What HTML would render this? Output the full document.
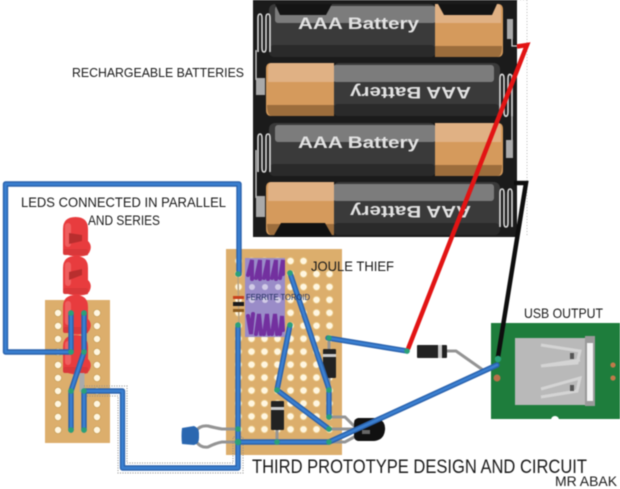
<!DOCTYPE html>
<html><head><meta charset="utf-8"><style>
html,body{margin:0;padding:0;background:#fff;width:620px;height:489px;overflow:hidden}
svg{display:block;filter:blur(.45px)}
.c{font-family:"Liberation Sans",sans-serif;fill:#1a1a1a}
.b{font-family:"Liberation Sans",sans-serif;font-weight:bold;fill:#e2e2e2;font-size:17px}
</style></head><body>
<svg width="620" height="489" viewBox="0 0 620 489" xmlns="http://www.w3.org/2000/svg">
<defs>
<pattern id="h" x="232" y="254.5" width="13" height="12.95" patternUnits="userSpaceOnUse"><circle cx="6.5" cy="6.5" r="3.6" fill="#fff6e0" stroke="#e6c27e" stroke-width=".8"/></pattern>
<pattern id="h2" x="51.5" y="306.5" width="13" height="13" patternUnits="userSpaceOnUse"><circle cx="6.5" cy="6.5" r="3.6" fill="#fff6e0" stroke="#c9a25e" stroke-width=".8"/></pattern>
<g id="bat">
<rect x="0" y="0" width="167" height="53" rx="6" fill="#3a3a3a"/>
<rect x="0" y="41" width="167" height="12" rx="5" fill="#2a2a2a"/>
<rect x="6" y="2" width="161" height="17" rx="3" fill="#7c7c7c"/>
<path d="M166 0H229q5 0 5 6V47q0 6-5 6H166Z" fill="#d59a5c"/>
<path d="M166 0H229q3 0 3 6V19H166Z" fill="#e0b184"/>
<path d="M166 42H233q0 11-5 11H166Z" fill="#9c6d3c"/>
</g>
<g id="spring" fill="none" stroke="#d8d8d8" stroke-width="1.6"><path d="M0 42V8q0-4 2-4t2 4V38q0 4 2 4t2-4V8q0-4 2-4t2 4V42"/></g>
<g id="led">
<path d="M0 36V12Q0 0 12.5 0T25 12V24q5 5 1 12l-1 1v1Q12 42 0 36Z" fill="#e83c3e"/>
<rect x="0" y="32" width="25" height="6" rx="2" fill="#d9383a"/>
<rect x="2" y="6" width="6" height="24" rx="3" fill="#ef5f5f"/>
</g>
</defs>

<!-- battery holder -->
<rect x="253" y="0" width="264" height="237" fill="#1b1b1b"/>
<path d="M527 0V236M517 0H527" stroke="#bbb" stroke-width="1" stroke-dasharray="1 2" fill="none"/>
<use href="#bat" transform="translate(269 4)"/>
<path d="M275 4h57l-6 11h-46Z" fill="#141414"/>
<path d="M438 4h59l-5 11h-48Z" fill="#141414"/>
<use href="#bat" transform="translate(500 63) scale(-1 1)"/>
<use href="#bat" transform="translate(269 123)"/>
<use href="#bat" transform="translate(500 182) scale(-1 1)"/>
<path d="M273 237l8-14h44l8 14Z" fill="#111"/>
<text class="b" x="298" y="29" textLength="121" lengthAdjust="spacingAndGlyphs">AAA Battery</text>
<text class="b" transform="translate(471 87) rotate(180)" x="0" y="0" textLength="121" lengthAdjust="spacingAndGlyphs">AAA Battery</text>
<text class="b" x="298" y="148" textLength="121" lengthAdjust="spacingAndGlyphs">AAA Battery</text>
<text class="b" transform="translate(471 206) rotate(180)" x="0" y="0" textLength="121" lengthAdjust="spacingAndGlyphs">AAA Battery</text>
<!-- springs -->
<use href="#spring" transform="translate(258 10)"/>
<use href="#spring" transform="translate(258 130)"/>
<use href="#spring" transform="translate(500 70) scale(1 1.1)"/>
<use href="#spring" transform="translate(500 185)"/>
<path d="M256 50V80M256 150V198M512 75V140M512 38V46H517" stroke="#cfcfcf" stroke-width="1.3" fill="none"/>
<rect x="256" y="78" width="9" height="17" fill="#aaa"/><rect x="256" y="196" width="9" height="21" fill="#aaa"/>
<rect x="507" y="19" width="6" height="20" fill="#aaa"/><rect x="506" y="140" width="7" height="18" fill="#aaa"/>

<!-- boards -->
<rect x="45" y="300" width="65" height="143" fill="#dcae6c"/>
<rect x="226" y="249" width="116" height="206" fill="#dcae6c"/>
<rect x="232" y="254.5" width="104" height="181" fill="url(#h)"/>
<rect x="310" y="254" width="28" height="14" fill="#dcae6c"/>
<rect x="51.5" y="306.5" width="13" height="130" fill="url(#h2)"/>
<rect x="90.5" y="306.5" width="13" height="130" fill="url(#h2)"/>

<!-- LEDs -->
<use href="#led" transform="translate(63 217)"/>
<use href="#led" transform="translate(63 256)"/>
<use href="#led" transform="translate(63 295)"/>
<use href="#led" transform="translate(63 335)"/>
<path d="M69 233l13 2v6l-13 3ZM69 272l13-3v6l-13 5Z" fill="#b82e2e"/>
<path d="M82 373V392" stroke="#aaa" stroke-width="5"/>

<!-- toroid -->
<rect x="245" y="258" width="40" height="79" fill="#9a8cc8"/>
<g fill="#fff" opacity=".55"><circle cx="252" cy="287" r="3"/><circle cx="265" cy="287" r="3"/><circle cx="278" cy="287" r="3"/><circle cx="252" cy="300" r="3"/><circle cx="265" cy="300" r="3"/><circle cx="278" cy="300" r="3"/></g>
<g fill="none" stroke="#73309f" stroke-width="4" stroke-linecap="round">
<path d="M248 275L252 260L252 279M256 278L260 260L260 279M264 278L268 260L268 279M272 278L276 260L276 279M280 278L283 260V274"/>
<path d="M248 316L251 334L253 314M256 334L259 314L261 334M264 334L267 314L269 334M272 334L275 314L277 334M280 334L282 316L283 330"/>
</g>
<!-- resistor -->
<path d="M238 275L239 325" stroke="#b9a27f" stroke-width="1.5"/>
<rect x="233" y="296" width="11" height="3" fill="#c8401c"/><rect x="233" y="302" width="11" height="4" fill="#1a1a1a"/><rect x="233" y="309" width="11" height="3" fill="#8a5a1e"/>

<!-- gray leads -->
<g fill="none" stroke="#949494" stroke-width="3">
<path d="M196 431q4-6 12-5q8 2 14 3H238"/>
<path d="M196 441q4 7 12 6q8-4 14-5H238"/>
<path d="M329 417H345L356 428"/><path d="M329 429H356"/><path d="M329 442H345L356 436"/>
<path d="M447 351H456L483 370"/>
<path d="M277 430V442M329 378V389M329 338V350"/>
</g>

<!-- capacitor -->
<path d="M182 428l12-2q5 2 5 7v5q0 6-5 7l-12-1q-1-8 0-16Z" fill="#2a67b0"/>

<!-- diodes -->
<rect x="323" y="349" width="13" height="29" rx="1" fill="#222"/><rect x="323" y="354" width="13" height="3" fill="#ccc"/>
<rect x="271" y="401" width="13" height="29" rx="1" fill="#222"/><rect x="271" y="407" width="13" height="3" fill="#ccc"/>
<rect x="417" y="345" width="30" height="13" rx="1" fill="#222"/><rect x="438" y="345" width="4" height="13" fill="#ccc"/>

<!-- transistor -->
<path d="M358 418H376Q386 420 385 430Q384 441 372 441H358q-4-1-4-5V423q0-4 4-5Z" fill="#111"/>
<rect x="362" y="430" width="8" height="4" fill="#666"/>

<!-- USB board -->
<rect x="491" y="323" width="129" height="96" fill="#1e7d3c"/>
<circle cx="555" cy="420" r="4" fill="#fff"/>
<rect x="515" y="338" width="71" height="67" fill="#b9b9b9"/>
<rect x="585" y="336" width="10" height="70" fill="#9a9a9a"/>
<rect x="587" y="343" width="6" height="58" fill="#f4f4f4"/>
<path d="M541 345L580 351L577 363L541 366L580 360" fill="none" stroke="#d4d4d4" stroke-width="3"/>
<path d="M541 389L580 378L577 391L541 397L578 391" fill="none" stroke="#d4d4d4" stroke-width="3"/>
<rect x="570" y="353" width="4" height="6" fill="#555"/><rect x="570" y="385" width="4" height="6" fill="#555"/>
<circle cx="613" cy="365" r="2.6" fill="#c07a4a"/><circle cx="613" cy="378" r="2.6" fill="#c07a4a"/>
<circle cx="497" cy="378" r="3.5" fill="#b8704a"/>

<!-- dotted -->
<path d="M84 386H127V463H233V437H243V473H118V396H84" fill="none" stroke="#8a8a8a" stroke-width="1" stroke-dasharray="1 1.5"/>

<!-- blue wires -->
<g fill="none" stroke-linejoin="round" stroke-linecap="round">
<g stroke="#2a62ad" stroke-width="5.4" id="w">
<path d="M71 352H5.5V184H239V274"/>
<path d="M71 313V352"/>
<path d="M84 313V352L71 391V430"/>
<path d="M84 392V430"/>
<path d="M84 391H122.500V468H238V442"/>
<path d="M238 325V442"/>
<path d="M238 442H329L497 365"/>
<path d="M290 273L329 389V417"/>
<path d="M290 325L277 390L329 429"/>
<path d="M328 338L407 351"/>
</g>
<g stroke="#3a7fd0" stroke-width="2.6">
<path d="M71 352H5.5V184H239V274"/>
<path d="M71 313V352"/>
<path d="M84 313V352L71 391V430"/>
<path d="M84 392V430"/>
<path d="M84 391H122.500V468H238V442"/>
<path d="M238 325V442"/>
<path d="M238 442H329L497 365"/>
<path d="M290 273L329 389V417"/>
<path d="M290 325L277 390L329 429"/>
<path d="M328 338L407 351"/>
</g>
</g>

<!-- red/black wires -->
<path d="M408 349L527 45L517 46.500" fill="none" stroke="#e21414" stroke-width="4.500" stroke-linejoin="miter"/>
<path d="M498 357L526 183H514" fill="none" stroke="#0e0e0e" stroke-width="4.500"/>

<!-- wire ends -->
<g fill="#2aa079">
<circle cx="71" cy="313" r="2.800"/><circle cx="84" cy="313" r="2.800"/><circle cx="71" cy="352" r="2.800"/><circle cx="84" cy="352" r="2.800"/><circle cx="71" cy="391" r="2.800"/><circle cx="84" cy="391" r="2.800"/><circle cx="71" cy="430" r="2.800"/><circle cx="84" cy="430" r="2.800"/>
<circle cx="238" cy="274" r="2.800"/><circle cx="238" cy="325" r="2.800"/><circle cx="238" cy="429" r="2.800"/><circle cx="238" cy="442" r="3.200"/>
<circle cx="290" cy="273" r="2.800"/><circle cx="290" cy="325" r="2.800"/><circle cx="277" cy="390" r="2.800"/><circle cx="329" cy="338" r="2.800"/><circle cx="329" cy="390" r="2.800"/><circle cx="329" cy="417" r="2.800"/><circle cx="329" cy="429" r="2.800"/><circle cx="329" cy="442" r="2.800"/><circle cx="277" cy="442" r="2.800"/>
<circle cx="407" cy="351" r="2.800"/><circle cx="498" cy="359" r="3.200"/>
</g>

<!-- labels -->
<text class="c" x="72" y="77" font-size="12.500" textLength="172" lengthAdjust="spacingAndGlyphs">RECHARGEABLE BATTERIES</text>
<text class="c" x="21" y="207" font-size="14" textLength="205" lengthAdjust="spacingAndGlyphs">LEDS CONNECTED IN PARALLEL</text>
<text class="c" x="88" y="225" font-size="14" textLength="72" lengthAdjust="spacingAndGlyphs">AND SERIES</text>
<text class="c" x="311" y="271" font-size="14" textLength="83" lengthAdjust="spacingAndGlyphs">JOULE THIEF</text>
<text x="246" y="300" font-size="8" font-family="Liberation Sans,sans-serif" fill="#1a2a5a" textLength="64" lengthAdjust="spacingAndGlyphs">FERRITE TOROID</text>
<text class="c" x="524" y="318" font-size="14" textLength="79" lengthAdjust="spacingAndGlyphs">USB OUTPUT</text>
<text class="c" x="252" y="473" font-size="19" textLength="335" lengthAdjust="spacingAndGlyphs">THIRD PROTOTYPE DESIGN AND CIRCUIT</text>
<text class="c" x="555" y="486" font-size="14" textLength="62" lengthAdjust="spacingAndGlyphs">MR ABAK</text>
</svg>
</body></html>
